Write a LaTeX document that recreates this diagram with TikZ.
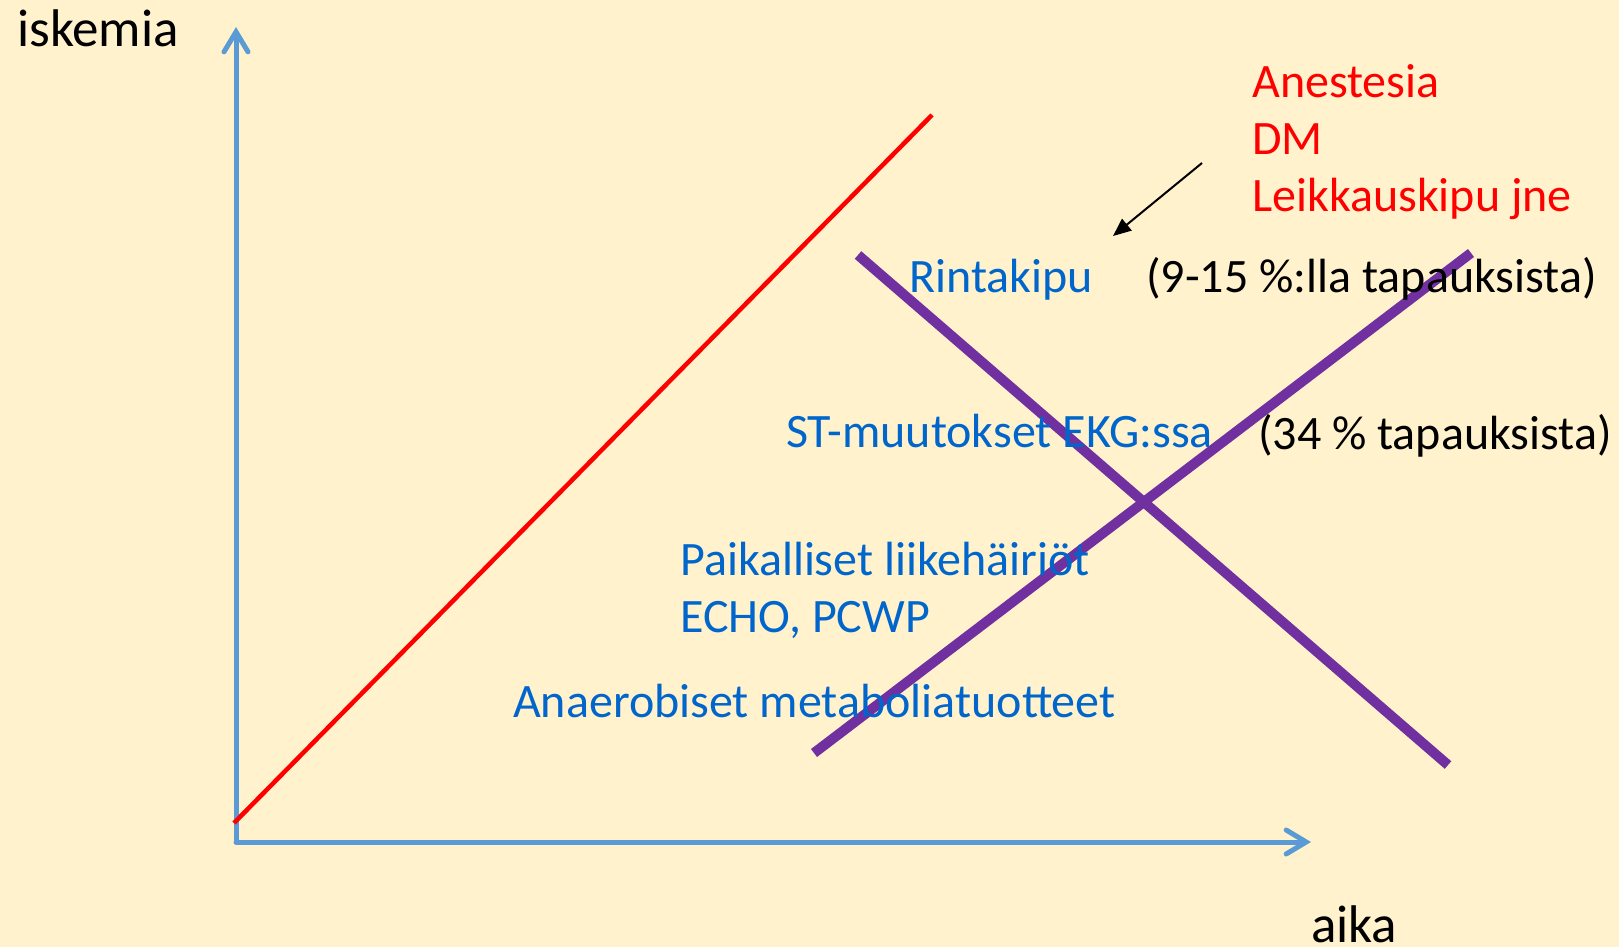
\documentclass[tikz,border=0pt]{standalone}
\usepackage{fontspec}
\setmainfont{Carlito}
\usetikzlibrary{arrows.meta}
\definecolor{bg}{HTML}{FFF2CC}
\definecolor{axisblue}{HTML}{5B9BD5}
\definecolor{txtblue}{HTML}{0066CC}
\definecolor{purp}{HTML}{7030A0}
\tikzset{
  axis/.style={draw=axisblue, line width=5pt, line cap=round, line join=round,
    -{Straight Barb[length=20pt,width=24pt,line cap=round]}},
  purpline/.style={draw=purp, line width=10pt},
  redline/.style={draw=red, line width=4.5pt},
  ptr/.style={draw=black, line width=2pt, -{Triangle[length=18pt,width=15pt]}},
  lbl/.style={anchor=base west, inner sep=0pt, font=\fontsize{48}{57}\selectfont},
  axlbl/.style={anchor=base west, inner sep=0pt, font=\fontsize{53}{63}\selectfont, text=black},
  bluetxt/.style={lbl, text=txtblue},
  redtxt/.style={lbl, text=red},
  blacktxt/.style={lbl, text=black},
}
\begin{document}
\begin{tikzpicture}[x=1pt,y=-1pt]
\fill[bg] (0,0) rectangle (1619,947);
\useasboundingbox (0,0) rectangle (1619,947);
% axes
\coordinate (O) at (236,842);
\coordinate (Ytop) at (236,27);
\coordinate (Xend) at (1311,842);
\draw[axis] (O) -- (Ytop);
\draw[axis] (O) -- (Xend);
% red line
\coordinate (r1) at (234,823);
\coordinate (r2) at (932,115);
\draw[redline] (r1) -- (r2);
% purple lines
\coordinate (p1a) at (858,255);
\coordinate (p1b) at (1448,765);
\coordinate (p2a) at (814,753);
\coordinate (p2b) at (1471,253);
\draw[purpline] (p1a) -- (p1b);
\draw[purpline] (p2a) -- (p2b);
% black arrow
\coordinate (a1) at (1202,163);
\coordinate (a2) at (1113,236);
\draw[ptr] (a1) -- (a2);
% labels
\node[axlbl] (isk) at (17,47) {iskemia};
\node[axlbl] (aika) at (1311,942) {aika};
\node[redtxt] (an) at (1252,98) {Anestesia};
\node[redtxt] (dm) at (1252,154) {DM};
\node[redtxt] (lk) at (1252,211) {Leikkauskipu jne};
\node[bluetxt] (rk) at (909,292) {Rintakipu};
\node[blacktxt] (p915) at (1146,292) {(9-15 \%:lla tapauksista)};
\node[bluetxt] (st) at (786,447) {ST-muutokset EKG:ssa};
\node[blacktxt] (p34) at (1258,449) {(34 \% tapauksista)};
\node[bluetxt] (pk) at (680,575) {Paikalliset liikehäiriöt};
\node[bluetxt] (echo) at (680,632) {ECHO, PCWP};
\node[bluetxt] (anae) at (513,717) {Anaerobiset metaboliatuotteet};
\end{tikzpicture}
\end{document}
